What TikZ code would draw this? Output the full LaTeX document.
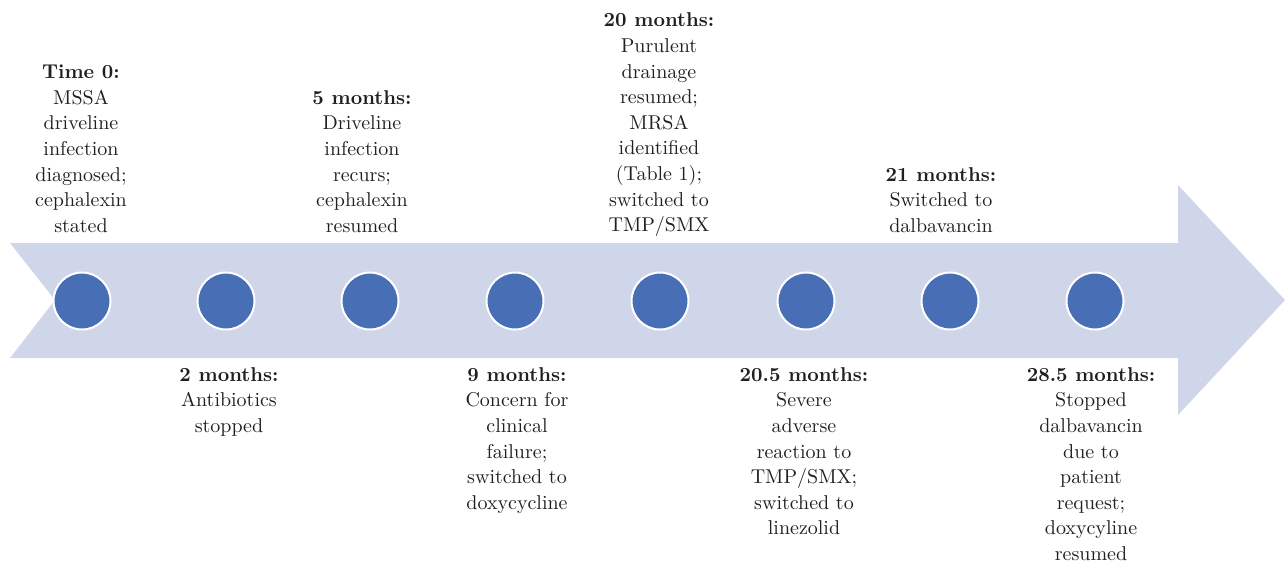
\documentclass[tikz,border=0pt]{standalone}
\usetikzlibrary{positioning}
\definecolor{arrowfill}{RGB}{207,214,234}
\definecolor{dotblue}{RGB}{72,110,182}
\definecolor{textgray}{RGB}{35,31,32}
\tikzset{
  event/.style={circle, fill=dotblue, draw=white, line width=1pt, minimum size=28.5pt, inner sep=0pt},
  upper/.style={anchor=south, align=center, inner sep=0pt, text=textgray, font=\fontsize{10}{12.8}\selectfont},
  lower/.style={anchor=north, align=center, inner sep=0pt, text=textgray, font=\fontsize{10}{12.8}\selectfont}
}
\begin{document}
\begin{tikzpicture}[x=0.5pt, y=-0.5pt]
    \useasboundingbox (0,0) rectangle (1285,563);
    % Big arrow
    \fill[arrowfill] (10,243) -- (1178,243) -- (1178,185) -- (1285,300) -- (1178,415)
        -- (1178,358) -- (10,358) -- (55,300) -- cycle;

    % Events
    \node[event] (t0) at (82,301) {};
    \node[event] (t2) at (226,301) {};
    \node[event] (t5) at (370,301) {};
    \node[event] (t9) at (515,301) {};
    \node[event] (t20) at (660,301) {};
    \node[event] (t205) at (806,301) {};
    \node[event] (t21) at (950,301) {};
    \node[event] (t285) at (1095,301) {};

    % Labels above
    \node[upper] (l0) at (81,233) {\textbf{Time 0:}\\MSSA\\driveline\\infection\\diagnosed;\\cephalexin\\stated};
    \node[upper] (l5) at (362,233) {\textbf{5 months:}\\Driveline\\infection\\recurs;\\cephalexin\\resumed};
    \node[upper] (l20) at (659,237) {\textbf{20 months:}\\Purulent\\drainage\\resumed;\\MRSA\\identified\\(Table 1);\\switched to\\TMP/SMX};
    \node[upper] (l21) at (941,233) {\textbf{21 months:}\\Switched to\\dalbavancin};

    % Labels below
    \node[lower] (l2) at (229,367) {\textbf{2 months:}\\Antibiotics\\stopped};
    \node[lower] (l9) at (517,367) {\textbf{9 months:}\\Concern for\\clinical\\failure;\\switched to\\doxycycline};
    \node[lower] (l205) at (804,367) {\textbf{20.5 months:}\\Severe\\adverse\\reaction to\\TMP/SMX;\\switched to\\linezolid};
    \node[lower] (l285) at (1091,367) {\textbf{28.5 months:}\\Stopped\\dalbavancin\\due to\\patient\\request;\\doxycyline\\resumed};
\end{tikzpicture}
\end{document}
